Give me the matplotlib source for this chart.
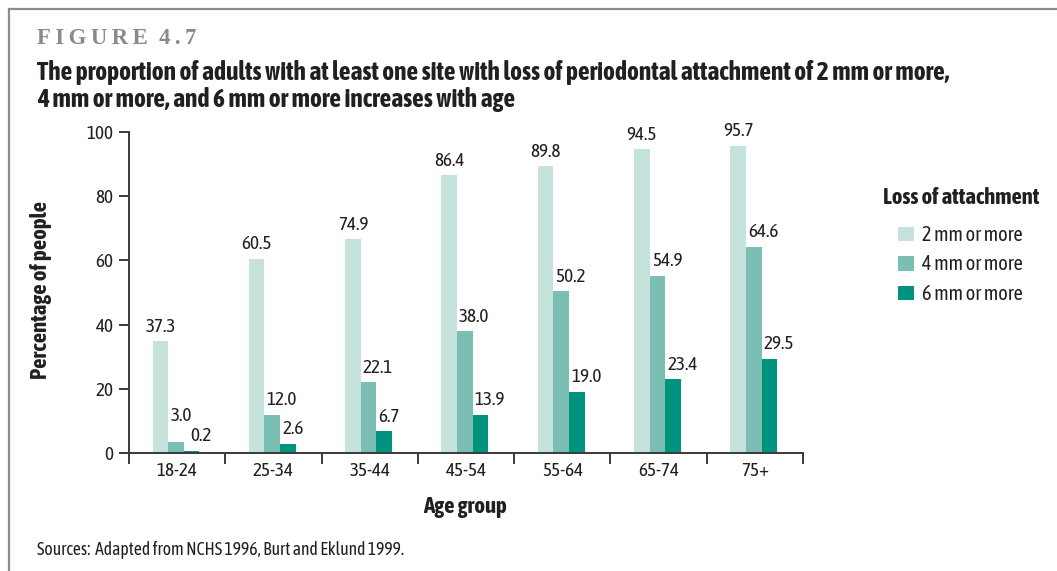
import matplotlib
matplotlib.use("Agg")
import matplotlib.pyplot as plt
from matplotlib.lines import Line2D
from matplotlib.patches import Patch
from matplotlib import font_manager as fm
import numpy as np

# ---- data ----
categories = ["18-24", "25-34", "35-44", "45-54", "55-64", "65-74", "75+"]
series_names = ["2 mm or more", "4 mm or more", "6 mm or more"]
# bar heights as drawn in the reference
values_2mm = [34.9, 60.5, 66.6, 86.4, 89.3, 94.5, 95.7]
values_4mm = [3.5, 12.0, 22.1, 38.0, 50.4, 55.2, 64.3]
values_6mm = [0.7, 2.9, 6.8, 12.0, 19.1, 23.0, 29.4]
# printed value labels
labels_2mm = ["37.3", "60.5", "74.9", "86.4", "89.8", "94.5", "95.7"]
labels_4mm = ["3.0", "12.0", "22.1", "38.0", "50.2", "54.9", "64.6"]
labels_6mm = ["0.2", "2.6", "6.7", "13.9", "19.0", "23.4", "29.5"]
yticks = [0, 20, 40, 60, 80, 100]

colors = ["#c6e2dd", "#7bbfb4", "#00947f"]
text_col = "#231f20"
axis_col = "#3a3a3a"


# ---- font selection: prefer a condensed sans if one is installed ----
def _is_bold(w):
    try:
        return int(w) >= 600
    except (TypeError, ValueError):
        return str(w).lower() in ("bold", "demibold", "semibold", "heavy", "black", "extra bold")


def _find_condensed():
    reg, bold = {}, {}
    for f in fm.fontManager.ttflist:
        nm = f.name
        cond = ("Narrow" in nm or "Condensed" in nm or "Cond" in nm or
                str(f.stretch) in ("condensed", "semi-condensed", "extra-condensed"))
        if not cond or f.style != "normal":
            continue
        if "Mono" in nm or "Serif" in nm:
            continue
        key = (nm, str(f.stretch))
        if _is_bold(f.weight):
            if str(f.weight) in ("bold", "700") or key not in bold:
                bold[key] = f.fname
        else:
            if str(f.weight) in ("normal", "400", "regular", "book") or key not in reg:
                reg[key] = f.fname
    common = [k for k in reg if k in bold]
    if common:
        k = sorted(common)[0]
        return reg[k], bold[k]
    return None, None


REG_PATH, BOLD_PATH = _find_condensed()
FALLBACK = ["Roboto", "DejaVu Sans"]


def fp(size, bold=False):
    if REG_PATH:
        return fm.FontProperties(fname=BOLD_PATH if bold else REG_PATH, size=size)
    return fm.FontProperties(family=FALLBACK, size=size,
                             weight="bold" if bold else "normal")


plt.rcParams["font.family"] = FALLBACK
BASE = 13.8 if REG_PATH else 12

W, H = 1057, 571
fig = plt.figure(figsize=(W / 100, H / 100), dpi=100)
renderer = fig.canvas.get_renderer()


def fx(px):
    return px / W


def fy(py):
    return 1 - py / H


def fit_width(t, target_px):
    bb = t.get_window_extent(renderer=renderer)
    if bb.width > 0:
        t.set_fontsize(t.get_fontsize() * target_px / bb.width)


# frame lines (top and left)
fig.add_artist(Line2D([fx(9), fx(9)], [fy(9), 0], color="#8c8c8c", lw=1.6))
fig.add_artist(Line2D([fx(9), 1], [fy(9), fy(9)], color="#8c8c8c", lw=1.6))

# titles
t0 = fig.text(fx(37), fy(39), "\u2009".join("FIGURE") + "\u2002" + "\u2009".join("4.7"),
              family=["Liberation Serif", "DejaVu Serif"],
              fontsize=15, fontweight="bold", color="#8a8a8a", va="center", ha="left")
fit_width(t0, 160)
t1 = fig.text(fx(37), fy(72), "The proportion of adults with at least one site with loss of periodontal attachment of 2 mm or more,",
              fontproperties=fp(15, True), color=text_col, va="center", ha="left")
fit_width(t1, 918)
t2 = fig.text(fx(37), fy(100), "4 mm or more, and 6 mm or more increases with age",
              fontproperties=fp(t1.get_fontsize(), True), color=text_col, va="center", ha="left")
t3 = fig.text(fx(37), fy(550), "Sources:  Adapted from NCHS 1996, Burt and Eklund 1999.",
              fontproperties=fp(12, False), color=text_col, va="center", ha="left")
fit_width(t3, 368)

# axes: x from 129 to 803, y 0 at 453.3, 100 at 131.7
ax_l, ax_r, ax_t, ax_b = 129, 803, 131.7, 453.3
ax = fig.add_axes([fx(ax_l), fy(ax_b), fx(ax_r - ax_l), (ax_b - ax_t) / H])
ax.set_xlim(0, len(categories))
ax.set_ylim(0, 100)
ax.patch.set_alpha(0)

x = np.arange(len(categories)) + 0.5
bw = 0.162
all_vals = [values_2mm, values_4mm, values_6mm]
all_labels = [labels_2mm, labels_4mm, labels_6mm]
for i, (vals, labs) in enumerate(zip(all_vals, all_labels)):
    xs = x + (i - 1) * bw - 0.012
    ax.bar(xs, vals, width=bw, color=colors[i], edgecolor="none", zorder=2)
    for j, (xx, v, lab) in enumerate(zip(xs, vals, labs)):
        dy = 4
        if i == 0:
            ax.annotate(lab, (xx, v), xytext=(0, dy), textcoords="offset points",
                        ha="center", va="bottom", fontproperties=fp(BASE), color=text_col)
        else:
            dx = 1.5
            if i == 1 and j == 0:
                dy = 12
            if i == 2 and j == 0:
                dx = 5
            ax.annotate(lab, (xx - bw / 2, v), xytext=(dx, dy), textcoords="offset points",
                        ha="left", va="bottom", fontproperties=fp(BASE), color=text_col)

for s in ["top", "right"]:
    ax.spines[s].set_visible(False)
for s in ["left", "bottom"]:
    ax.spines[s].set_color(axis_col)
    ax.spines[s].set_linewidth(1.4)

ax.set_yticks(yticks)
ax.set_yticklabels([str(t) for t in yticks], fontproperties=fp(BASE))
ax.tick_params(axis="y", length=7, width=1.4, color=axis_col,
               labelcolor=text_col, pad=4)
ax.set_xticks(np.arange(len(categories) + 1))
ax.set_xticklabels([])
ax.set_xticks(x, minor=True)
ax.set_xticklabels(categories, minor=True, fontproperties=fp(BASE))
ax.tick_params(axis="x", which="major", direction="out", length=8, width=1.4, color=axis_col)
ax.tick_params(axis="x", which="minor", length=0, labelcolor=text_col, pad=6)

ty = fig.text(fx(41), fy(290), "Percentage of people", rotation=90,
              fontproperties=fp(14, True), color=text_col, va="center", ha="center")
bb = ty.get_window_extent(renderer=renderer)
if bb.height > 0:
    ty.set_fontsize(ty.get_fontsize() * 178 / bb.height)
tx = fig.text(fx(465), fy(507), "Age group", fontproperties=fp(14, True),
              color=text_col, va="center", ha="center")
fit_width(tx, 84)

# legend (title drawn separately so the entries can be indented)
lt = fig.text(fx(883), fy(198), "Loss of attachment", fontproperties=fp(14, True),
              color=text_col, va="center", ha="left")
fit_width(lt, 157)
handles = [Patch(facecolor=c, edgecolor="none") for c in colors]
leg = fig.legend(handles, series_names, loc="upper left",
                 bbox_to_anchor=(fx(898), fy(225)), frameon=False,
                 prop=fp(14.5), borderaxespad=0, borderpad=0,
                 handlelength=0.8, handleheight=0.75, handletextpad=0.4,
                 labelspacing=0.47)
for t in leg.get_texts():
    t.set_color(text_col)

fig.savefig("out.png", dpi=100)
